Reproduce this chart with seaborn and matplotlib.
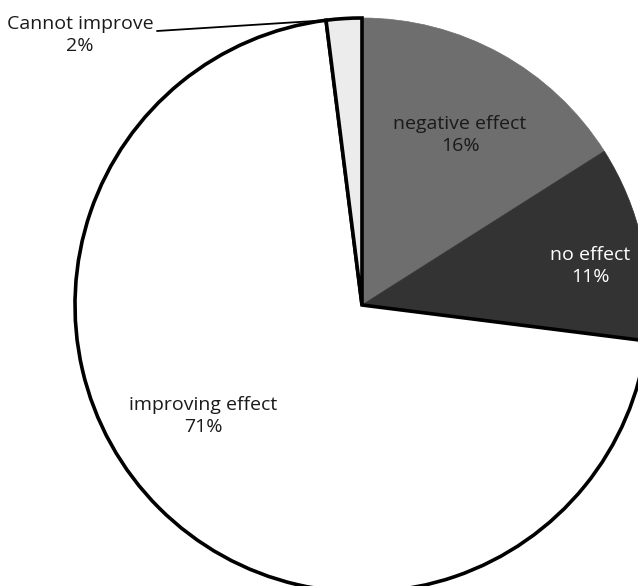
import numpy as np
import matplotlib
matplotlib.use("Agg")
import matplotlib.pyplot as plt
import seaborn as sns

categories = ["negative effect", "no effect", "improving effect", "Cannot improve"]
values = [16, 11, 71, 2]
colors = ["#6e6e6e", "#333333", "#ffffff", "#ececec"]
text_colors = ["#1a1a1a", "#ffffff", "#1a1a1a", "#1a1a1a"]

sns.set_style("white")
plt.rcParams["font.family"] = ["Open Sans", "DejaVu Sans"]

W, H = 638, 586
cx, cy, R = 362, 305, 287
fig = plt.figure(figsize=(W / 100, H / 100), dpi=100)
ax = fig.add_axes([0, 0, 1, 1])

def px(x, y):
    return ((x - cx) / R, (cy - y) / R)

wedges, _ = ax.pie(values, colors=colors, startangle=90, counterclock=False,
                   radius=1, center=(0, 0))
for w, c in zip(wedges, colors):
    if c in ("#ffffff", "#ececec"):
        w.set_edgecolor("black")
        w.set_linewidth(2.6)
        w.set_zorder(3)
    else:
        w.set_edgecolor(c)
        w.set_linewidth(0.5)
        w.set_zorder(2)

label_pos = [px(460, 135), px(590, 266), px(203, 416), px(80, 35)]
for name, v, pos, tc in zip(categories, values, label_pos, text_colors):
    ax.text(pos[0], pos[1], f"{name}\n{v}%", ha="center", va="center",
            fontsize=14, color=tc, linespacing=1.3, zorder=5, multialignment="center")

# leader line for the small slice
w = wedges[3]
ang = np.deg2rad(w.theta2)
end = (np.cos(ang), np.sin(ang))
start = px(157, 31)
ax.plot([start[0], end[0]], [start[1], end[1]], color="black", lw=1.3, zorder=4)

ax.set_aspect("auto")
ax.set_xlim(-cx / R, (W - cx) / R)
ax.set_ylim(-(H - cy) / R, cy / R)
ax.axis("off")
fig.savefig("out.png", dpi=100)
